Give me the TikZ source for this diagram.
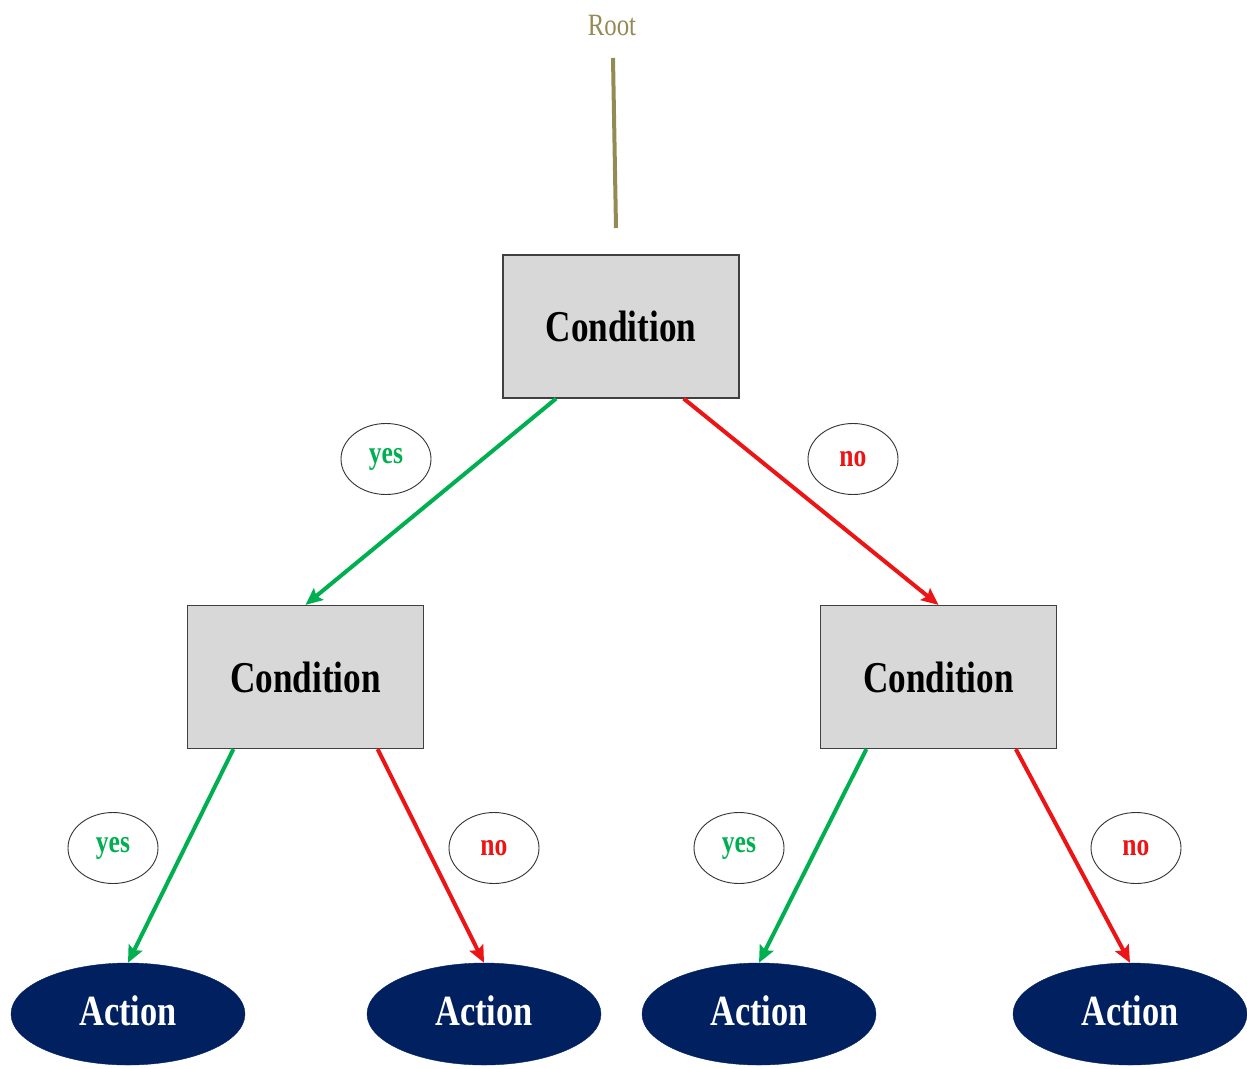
\documentclass[tikz,border=0pt]{standalone}
\usepackage{fontspec}
\setmainfont{Liberation Serif}
\newfontfamily\narrowserif[FakeStretch=0.8]{Liberation Serif}
\usepackage{xcolor}
\usepackage{tikz}
\usetikzlibrary{shapes.geometric,arrows.meta,positioning}
\definecolor{rootolive}{RGB}{148, 138, 84}
\definecolor{yesgreen}{RGB}{0, 176, 80}
\definecolor{nored}{RGB}{236, 20, 20}
\definecolor{actionnavy}{RGB}{0, 32, 96}
\definecolor{condgray}{RGB}{216, 216, 216}

\tikzset{
  condbox/.style={draw=black!75, line width=1.2pt, fill=condgray, rectangle,
    minimum width=236pt, minimum height=143pt, inner sep=0pt,
    font=\narrowserif\bfseries\fontsize{44}{48}\selectfont},
  actionnode/.style={ellipse, fill=actionnavy, draw=actionnavy, text=white,
    minimum width=234pt, minimum height=102pt, inner sep=0pt, text depth=6pt,
    font=\narrowserif\bfseries\fontsize{43}{46}\selectfont},
  answer/.style={ellipse, draw=black!80, line width=0.9pt, fill=white,
    minimum width=90pt, minimum height=71pt, inner sep=0pt,
    font=\narrowserif\bfseries\fontsize{32}{34}\selectfont},
  yesedge/.style={->, yesgreen, line width=4pt},
  noedge/.style={->, nored, line width=4pt}
}

\begin{document}
\begin{tikzpicture}[x=1pt, y=-1pt, >={Stealth[length=17pt, width=15pt, inset=3pt]}]
        \useasboundingbox (0, 0) rectangle (1247, 1068);

        % Root stub
        \node[text=rootolive, font=\narrowserif\fontsize{31}{33}\selectfont] (root) at (612, 26) {Root};
        \coordinate (roottop) at (613, 58);
        \coordinate (rootfoot) at (616, 228);
        \draw[rootolive, line width=4pt] (roottop) -- (rootfoot);

        % Conditions
        \node[condbox] (top) at (621, 326.5) {Condition};
        \node[condbox] (left) at (305.5, 677) {Condition};
        \node[condbox] (right) at (938.5, 677) {Condition};

        % Actions
        \node[actionnode] (act1) at (128, 1014) {Action};
        \node[actionnode] (act2) at (484, 1014) {Action};
        \node[actionnode] (act3) at (759, 1014) {Action};
        \node[actionnode] (act4) at (1130, 1014) {Action};

        % Branches
        \draw[yesedge] (top.228) -- (left.north);
        \draw[noedge] (top.-49) -- (right.north);
        \draw[yesedge] (left.225) -- (act1.north);
        \draw[noedge] (left.-45) -- (act2.north);
        \draw[yesedge] (right.225) -- (act3.north);
        \draw[noedge] (right.-43) -- (act4.north);

        % Branch labels
        \node[answer, text=yesgreen] (yes1) at (386, 459) {yes};
        \node[answer, text=nored] (no1) at (853, 459) {no};
        \node[answer, text=yesgreen] (yes2) at (113, 848) {yes};
        \node[answer, text=nored] (no2) at (494, 848) {no};
        \node[answer, text=yesgreen] (yes3) at (739, 848) {yes};
        \node[answer, text=nored] (no3) at (1136, 848) {no};
    \end{tikzpicture}
\end{document}
